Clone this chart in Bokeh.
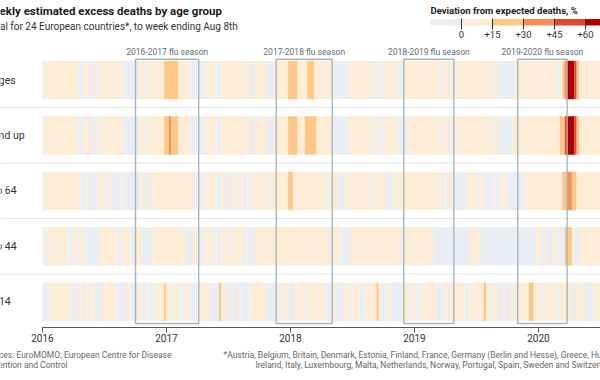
from bokeh.plotting import figure
from bokeh.models import Range1d, Label, LinearAxis, FixedTicker
from bokeh.layouts import column
from bokeh.embed import file_html
from bokeh.resources import INLINE

# ---------------- data ----------------
groups = ["All ages", "65 and up", "45 to 64", "15 to 44", "0 to 14"]

# weekly deviation from expected deaths, %, from week 1 of 2016 to week ending Aug 8th 2020
all_ages = [
    6, 8, 9, 7, 5, 4, 6, 3, 2, 4, 5, 3, 2, 3, 1, -2, -3, 2, 3, 1,
    -1, -2, 1, -2, 2, 3, 4, 5, 4, 3, 2, 3, 2, 1, -1, -3, -4, -2, -3, -1,
    2, 3, 1, -1, 2, 4, 5, 6, 8, 10, 13, 18, 24, 27, 25, 21, 17, 13, 10, 8,
    5, 3, -1, -2, -3, -2, -1, -2, 1, 2, 3, 2, 1, -1, -2, 2, 3, 4, 3, 2,
    3, 4, 3, 2, 3, 2, 1, -1, -2, 1, 2, 3, 2, 1, -1, -2, -1, 2, 4, 6,
    9, 11, 14, 19, 22, 20, 16, 14, 12, 13, 14, 17, 19, 16, 12, 9, 7, 5, 4, 3,
    2, 1, -1, -2, -3, -2, -3, -1, 1, 2, 3, 4, 5, 6, 5, 4, 3, 1, -1, 1,
    -1, 1, -1, 2, 3, 4, 3, 2, 1, -1, -2, 1, 2, 3, 4, 3, 2, 3, 4, 3,
    2, 3, 2, 3, 4, 3, 1, -1, 1, 2, -1, 1, -1, 2, 3, 4, 5, 6, 5, 4,
    3, 4, 5, 4, 3, 2, 3, 1, -1, 1, 2, -1, -2, -3, -2, -1, -2, -1, 1, 2,
    3, 4, 5, 6, 7, 6, 8, 9, 7, 5, 4, 3, 2, 3, 2, 1, -1, -2, 18, 38,
    68, 78, 66, 50, 22, 12, 8, 5, 4, 3, 2, 3, 2, 3, 4, 5, 4, 3, 2, 3,
]
age_65_up = [
    7, 9, 10, 8, 6, 5, 7, 4, 3, 5, 6, 4, 3, 4, 2, -2, -3, 2, 4, 2,
    -1, -3, 1, -2, 3, 4, 5, 6, 5, 4, 3, 4, 3, 2, -1, -4, -5, -3, -4, -2,
    3, 4, 2, -1, 3, 5, 6, 7, 9, 11, 14, 20, 27, 36, 28, 22, 18, 14, 11, 9,
    6, 4, -1, -3, -4, -3, -2, -2, 1, 3, 4, 3, 2, -1, -2, 3, 4, 5, 4, 3,
    4, 5, 4, 3, 4, 3, 2, -1, -2, 2, 3, 4, 3, 2, -1, -3, -1, 3, 5, 7,
    10, 12, 14, 21, 25, 23, 18, 14, 13, 14, 16, 19, 22, 20, 16, 12, 9, 6, 5, 4,
    3, 1, -1, -3, -4, -3, -4, -2, 1, 3, 4, 5, 6, 7, 6, 5, 4, 2, -1, 1,
    -1, 1, -1, 2, 4, 5, 4, 3, 2, -1, -2, -3, -1, 1, 3, 4, 5, 4, 3, 4,
    3, 4, 3, 4, 5, 4, 2, -1, 1, 2, -1, 1, -1, 3, 4, 5, 6, 7, 6, 5,
    4, 5, 6, 5, 4, 3, 4, 2, -1, 1, 2, -1, -3, -4, -3, -2, -1, 1, 2, 3,
    4, 5, 6, 7, 8, 7, 9, 10, 8, 6, 5, 4, 3, 4, 3, 2, 5, 18, 27, 50,
    82, 90, 74, 48, 24, 13, 9, 6, 5, 4, 3, 4, 3, 4, 5, 6, 5, 4, 3, 4,
]
age_45_64 = [
    5, 6, 7, 6, 4, 3, 4, 3, 2, 3, 4, 2, 3, 2, 2, 1, -1, -2, 1, -1,
    -2, -3, -1, 2, 3, 1, -1, 2, 1, -1, -2, -3, -1, 1, -1, -2, -3, -4, -3, -2,
    -1, 1, 2, -1, -2, 1, 2, 3, 4, 5, 6, 7, 8, 9, 10, 8, 7, 6, 5, 4,
    3, 2, 1, -1, 1, -1, -2, -1, 1, 2, 3, 2, 1, -1, -2, 1, 2, -1, -2, 1,
    2, -1, 1, 2, -1, -2, 1, -1, 1, 2, 3, 4, 3, 2, -1, 2, 3, 4, 5, 7,
    9, 11, 13, 17, 16, 13, 10, 8, 7, 6, 5, 6, 7, 6, 5, 4, 3, 2, 1, -1,
    1, 2, 2, 1, -1, -2, -1, 1, 2, 3, 4, 5, 6, 5, 4, 3, 2, 1, -1, 1,
    2, 3, 2, 1, -1, -2, -1, 1, 2, 3, 4, 5, 4, 3, 4, 5, 4, 3, 4, 5,
    4, 5, 6, 5, 4, 3, 2, -1, 1, -1, 1, 2, -1, -2, -3, -2, -1, -2, 1, 2,
    3, 2, -1, 1, 2, -1, -2, -3, -1, 1, -1, -2, 1, 2, 1, -1, -2, -3, -4, -3,
    -2, -1, 1, 2, 3, 4, 5, 6, 7, 6, 5, 4, 5, 4, 3, 4, 6, 10, 17, 24,
    36, 40, 27, 18, 12, 9, 7, 6, 5, 6, 7, 6, 5, 6, 7, 8, 7, 6, 5, 6,
]
age_15_44 = [
    3, -1, 2, 1, -1, 2, 3, 4, 3, 2, 1, -1, -2, 1, 2, -1, 1, 2, -1, -2,
    -3, -2, -3, -1, 1, 2, 3, 4, 3, 2, 1, -1, -2, 1, 2, 3, 1, -1, -2, 1,
    2, 1, -1, -2, -3, -1, 1, 2, 3, 4, 5, 6, 7, 8, 7, 6, 5, 4, 3, 2,
    -1, -2, -1, 1, 2, 1, -1, -2, 1, 2, 1, -1, 1, -1, -2, 1, 2, 1, -1, 1,
    2, 3, 2, 1, -1, 1, -1, -2, -1, 1, 2, 3, 4, 5, 4, 5, 6, 7, 8, 7,
    8, 9, 10, 9, 11, 10, 9, 8, 7, 6, 5, 6, 5, 4, 3, 4, 3, 2, 3, 2,
    -1, 1, 2, 3, 1, -1, -2, -3, -1, 1, 2, 3, 4, 5, 4, 3, 4, 5, 4, 3,
    4, 5, 6, 5, 4, 3, 4, 3, 2, 1, -1, 1, 2, 3, 4, 3, 2, 3, 2, 3,
    2, 3, 2, 1, -1, -2, -3, -2, -3, -4, -3, -2, -3, -2, -1, -2, -3, -2, -1, 1,
    2, 3, 2, 1, -1, -2, -3, -2, -3, -4, -3, -4, -5, -4, -3, -4, -3, -2, -3, -2,
    -3, -2, -3, -2, -3, -2, -1, 1, 2, -1, -2, 1, -1, -2, 1, 2, -1, -2, -1, 16,
    22, 18, 8, -1, -2, 2, 3, 4, 5, 4, 5, 6, 5, 4, 5, 6, 7, 6, 5, 6,
]
age_0_14 = [
    -4, -3, -2, 2, 4, 5, 6, 5, 4, 3, 2, 1, -2, -3, 1, -2, 1, -1, 2, -2,
    2, 3, -2, -4, -3, 2, 3, 4, 5, 3, 2, -2, -3, -4, -2, 2, 1, -2, -3, -2,
    3, 2, -2, -3, 2, -1, -2, 3, 5, 6, 8, 17, 6, 3, -2, 2, 4, 2, -2, -3,
    2, 3, -2, -4, -5, -3, 2, 3, 4, 2, -2, -4, -3, -2, 18, 5, 2, -2, -3, 2,
    -2, -3, 2, -3, -4, -5, -2, 2, 3, 4, 5, 4, 3, 2, -2, -4, -3, -2, 2, 3,
    -2, 2, 3, -2, -3, -2, 2, 3, 4, 2, -2, 2, 4, 5, 6, 5, 4, 3, 2, -2,
    -3, 2, 3, -2, -4, -3, 2, 3, 2, -2, 3, 4, 2, -2, -3, 2, 4, 6, 8, 10,
    17, 6, -2, -3, 2, 3, -2, -4, -5, -4, -2, 2, 3, 2, -2, 2, 3, -2, -3, 2,
    3, 4, 5, 4, 2, -2, -3, -2, 2, 3, -2, 2, 3, 4, 5, 3, 2, -2, -3, 2,
    3, 4, 5, 6, 8, 18, 7, 3, -2, 2, 3, -2, -3, 2, -2, -3, 2, 3, -2, 2,
    4, 6, 8, 11, 17, 19, 12, 7, 4, -2, 2, 3, 4, 3, 2, 1, -2, 2, 3, 4,
    3, 2, -3, -2, 2, 3, 2, -3, -4, -5, -3, 2, 3, 4, 5, 4, 3, 4, 5, 6,
]
series = [all_ages, age_65_up, age_45_64, age_15_44, age_0_14]

bins = [0, 15, 30, 45, 60]
bin_labels = ["0", "+15", "+30", "+45", "+60"]
colors = ["#e8eef3", "#fdecd6", "#fdc886", "#f78d59", "#e0482e", "#b00000"]

years = [2016, 2017, 2018, 2019, 2020]
flu_labels = ["2016-2017 flu season", "2017-2018 flu season",
              "2018-2019 flu season", "2019-2020 flu season"]
flu_start_week = [39.0, 98.0, 151.5, 199.3]
flu_end_week = [65.5, 121.5, 172.5, 220.0]

title = "Weekly estimated excess deaths by age group"
subtitle = "Total for 24 European countries*, to week ending Aug 8th"
legend_title = "Deviation from expected deaths, %"
source_lines = ["Sources: EuroMOMO; European Centre for Disease", "Prevention and Control"]
note_lines = ["*Austria, Belgium, Britain, Denmark, Estonia, Finland, France, Germany (Berlin and Hesse), Greece, Hungary,",
              "Ireland, Italy, Luxembourg, Malta, Netherlands, Norway, Portugal, Spain, Sweden and Switzerland"]

# ---------------- layout helpers (reference pixel -> data units) ----------------
W = 600
H_TOP, H_BOT = 347, 33
FRAME_BOTTOM = 327
X0_PX, YEAR_PX = 42.0, 124.0
ROW0_PX, ROW_PX = 79.5, 55.45
HALF = 0.347
FONT = "Roboto"


def X(px):
    return 2016 + (px - X0_PX) / YEAR_PX


def Y(px):
    return (px - ROW0_PX) / ROW_PX


def wk(w):
    return 2016 + w / 52.0


def bin_of(v):
    k = 0
    for b in bins:
        if v >= b:
            k += 1
    return k


xr = Range1d(X(0), X(W))
p = figure(width=W, height=H_TOP, output_backend="svg", toolbar_location=None,
           x_range=xr, y_range=Range1d(Y(FRAME_BOTTOM), Y(0)),
           min_border_left=0, min_border_right=0, min_border_top=0,
           min_border_bottom=H_TOP - FRAME_BOTTOM,
           x_axis_type=None, y_axis_type=None)
p.outline_line_color = None
p.grid.visible = False
p.background_fill_color = "white"
p.border_fill_color = "white"

# separators between rows
for i in range(len(groups) - 1):
    p.segment(x0=X(0), x1=X(W), y0=i + 0.5, y1=i + 0.5, line_color="#e4e4e4", line_width=1)

# stripes: merge consecutive weeks of the same colour bin
for i, vals in enumerate(series):
    lefts, rights, cols = [], [], []
    start = 0
    for w in range(1, len(vals) + 1):
        if w == len(vals) or bin_of(vals[w]) != bin_of(vals[start]):
            lefts.append(wk(start))
            rights.append(wk(w))
            cols.append(colors[bin_of(vals[start])])
            start = w
    p.quad(left=lefts, right=rights, top=[i - HALF] * len(lefts), bottom=[i + HALF] * len(lefts),
           fill_color=cols, line_color=None)

# flu season boxes
for lab, s, e in zip(flu_labels, flu_start_week, flu_end_week):
    p.quad(left=wk(s), right=wk(e), top=Y(58.7), bottom=Y(323), fill_color=None,
           line_color="#a7b6be", line_width=1.4)
    p.add_layout(Label(x=(wk(s) + wk(e)) / 2, y=Y(51), text=lab, text_align="center",
                       text_baseline="middle", text_font=FONT, text_font_size="8.5px",
                       text_color="#5f6b72"))

# row labels
for i, g in enumerate(groups):
    p.add_layout(Label(x=X(-22), y=i, text=g, text_align="left", text_baseline="middle",
                       text_font=FONT, text_font_size="10.5px", text_color="#333333"))

# titles
p.add_layout(Label(x=X(-17), y=Y(10), text=title, text_align="left", text_baseline="middle",
                   text_font=FONT, text_font_size="11.5px", text_font_style="bold", text_color="#1a1a1a"))
p.add_layout(Label(x=X(-15), y=Y(26), text=subtitle, text_align="left", text_baseline="middle",
                   text_font=FONT, text_font_size="10px", text_color="#333333"))

# legend
LX, LW = 430.0, 31.0
p.add_layout(Label(x=X(LX), y=Y(9.5), text=legend_title, text_align="left", text_baseline="middle",
                   text_font=FONT, text_font_size="9.5px", text_font_style="bold", text_color="#222222"))
p.quad(left=[X(LX + LW * k) for k in range(len(colors))],
       right=[X(LX + LW * (k + 1)) for k in range(len(colors))],
       top=Y(18.5), bottom=Y(25), fill_color=colors, line_color=None)
p.segment(x0=[X(LX + LW * (k + 1)) for k in range(len(bins))],
          x1=[X(LX + LW * (k + 1)) for k in range(len(bins))],
          y0=Y(18), y1=Y(29), line_color="#333333", line_width=1)
for k, lab in enumerate(bin_labels):
    p.add_layout(Label(x=X(LX + LW * (k + 1)), y=Y(34), text=lab, text_align="center",
                       text_baseline="middle", text_font=FONT, text_font_size="9.5px", text_color="#333333"))

# x axis
ax = LinearAxis(ticker=FixedTicker(ticks=years), bounds=(2016, X(620)))
ax.axis_line_color = "#555555"
ax.major_tick_line_color = "#555555"
ax.major_tick_in = 0
ax.major_tick_out = 5
ax.minor_tick_line_color = None
ax.major_label_text_font = FONT
ax.major_label_text_font_size = "10px"
ax.major_label_text_color = "#333333"
ax.major_label_standoff = 1
p.add_layout(ax, "below")

# footnotes panel
q = figure(width=W, height=H_BOT, output_backend="svg", toolbar_location=None,
           x_range=xr, y_range=Range1d(H_TOP + H_BOT, H_TOP),
           min_border_left=0, min_border_right=0, min_border_top=0, min_border_bottom=0,
           x_axis_type=None, y_axis_type=None)
q.outline_line_color = None
q.grid.visible = False
q.background_fill_color = "white"
q.border_fill_color = "white"
for j, t in enumerate(source_lines):
    q.add_layout(Label(x=X(-19), y=354.5 + 10 * j, text=t, text_align="left", text_baseline="middle",
                       text_font=FONT, text_font_size="8.5px", text_color="#666666"))
for j, (t, xs) in enumerate(zip(note_lines, [223, 255])):
    q.add_layout(Label(x=X(xs), y=354.5 + 10 * j, text=t, text_align="left", text_baseline="middle",
                       text_font=FONT, text_font_size="8.5px", text_color="#666666"))

layout = column(p, q, spacing=0)
open("out.html", "w").write(file_html(layout, INLINE))
